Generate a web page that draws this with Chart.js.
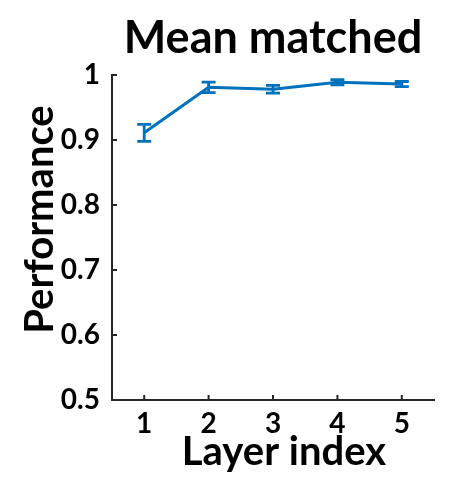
<!DOCTYPE html>
<html>
<head>
<meta charset="utf-8">
<script src="https://cdn.jsdelivr.net/npm/chart.js@4/dist/chart.umd.min.js"></script>
<style>
  html, body { margin: 0; padding: 0; background: #ffffff; }
  #wrap { width: 449px; height: 484px; position: relative; }
</style>
</head>
<body>
<div id="wrap"><canvas id="chart"></canvas></div>
<script>
// Mean matched performance per layer, with error bars
const layerIndex = [1, 2, 3, 4, 5];
const meanPerf = [0.911, 0.981, 0.978, 0.989, 0.986];
const perfErr = [0.013, 0.008, 0.006, 0.004, 0.004];
const xTicks = [1, 2, 3, 4, 5];
const yTicks = [0.5, 0.6, 0.7, 0.8, 0.9, 1];
const yTickLabels = ['0.5', '0.6', '0.7', '0.8', '0.9', '1'];

const titleText = 'Mean matched';
const xTitle = 'Layer index';
const yTitle = 'Performance';

const lineColor = '#0072BD';
const axisColor = '#262626';
const fontFamily = 'Lato, "Open Sans", sans-serif';

// error bars with caps, drawn through the chart scales
const errorBars = {
  id: 'errorBars',
  afterDatasetsDraw(chart) {
    const { ctx, scales: { x, y } } = chart;
    ctx.save();
    ctx.strokeStyle = lineColor;
    ctx.lineWidth = 2.8;
    const cap = 7;
    layerIndex.forEach((v, i) => {
      const px = x.getPixelForValue(v);
      const top = y.getPixelForValue(meanPerf[i] + perfErr[i]);
      const bot = y.getPixelForValue(meanPerf[i] - perfErr[i]);
      ctx.beginPath();
      ctx.moveTo(px, top); ctx.lineTo(px, bot);
      ctx.moveTo(px - cap, top); ctx.lineTo(px + cap, top);
      ctx.moveTo(px - cap, bot); ctx.lineTo(px + cap, bot);
      ctx.stroke();
    });
    ctx.restore();
  }
};

// inward tick marks and axis titles
const axisDecor = {
  id: 'axisDecor',
  afterDraw(chart) {
    const { ctx, chartArea, scales: { x, y } } = chart;
    ctx.save();
    ctx.strokeStyle = axisColor;
    ctx.lineWidth = 2;
    const len = 5;
    ctx.beginPath();
    x.ticks.forEach(t => {
      const px = x.getPixelForValue(t.value);
      ctx.moveTo(px, chartArea.bottom);
      ctx.lineTo(px, chartArea.bottom - len);
    });
    y.ticks.forEach(t => {
      const py = y.getPixelForValue(t.value);
      ctx.moveTo(chartArea.left, py);
      ctx.lineTo(chartArea.left + len, py);
    });
    ctx.stroke();

    ctx.fillStyle = '#000000';
    ctx.font = 'bold 40px ' + fontFamily;
    ctx.textAlign = 'center';
    ctx.textBaseline = 'alphabetic';
    ctx.fillText(xTitle, (chartArea.left + chartArea.right) / 2 + 11, 465);

    ctx.font = 'bold 40px ' + fontFamily;
    ctx.translate(53, (chartArea.top + chartArea.bottom) / 2 - 18);
    ctx.rotate(-Math.PI / 2);
    ctx.fillText(yTitle, 0, 0);
    ctx.restore();
  }
};

new Chart(document.getElementById('chart'), {
  type: 'line',
  data: {
    datasets: [{
      data: layerIndex.map((v, i) => ({ x: v, y: meanPerf[i] })),
      borderColor: lineColor,
      backgroundColor: lineColor,
      borderWidth: 3,
      pointRadius: 0,
      tension: 0
    }]
  },
  options: {
    responsive: true,
    maintainAspectRatio: false,
    animation: false,
    layout: { padding: { left: 0, right: 15, top: 0, bottom: 0 } },
    plugins: {
      legend: { display: false },
      tooltip: { enabled: false },
      title: {
        display: true,
        text: titleText,
        fullSize: false,
        color: '#000000',
        font: { family: fontFamily, size: 45, weight: 'bold', lineHeight: 1.2 },
        padding: { top: 11, bottom: 10 }
      }
    },
    scales: {
      x: {
        type: 'linear',
        min: 0.5,
        max: 5.5,
        afterBuildTicks: s => { s.ticks = xTicks.map(v => ({ value: v })); },
        afterFit: s => { s.height = 84; },
        grid: { display: true, drawOnChartArea: false, drawTicks: false },
        border: { display: true, color: axisColor, width: 2 },
        ticks: {
          color: '#000000',
          padding: 7,
          maxRotation: 0,
          font: { family: fontFamily, size: 28, weight: 'bold' },
          callback: v => String(v)
        }
      },
      y: {
        type: 'linear',
        min: 0.5,
        max: 1,
        afterBuildTicks: s => { s.ticks = yTicks.map(v => ({ value: v })); },
        afterFit: s => { s.width = 112; },
        grid: { display: true, drawOnChartArea: false, drawTicks: false },
        border: { display: true, color: axisColor, width: 2 },
        ticks: {
          color: '#000000',
          padding: 12,
          font: { family: fontFamily, size: 28, weight: 'bold' },
          callback: v => yTickLabels[yTicks.indexOf(v)]
        }
      }
    }
  },
  plugins: [errorBars, axisDecor]
});
</script>
</body>
</html>
